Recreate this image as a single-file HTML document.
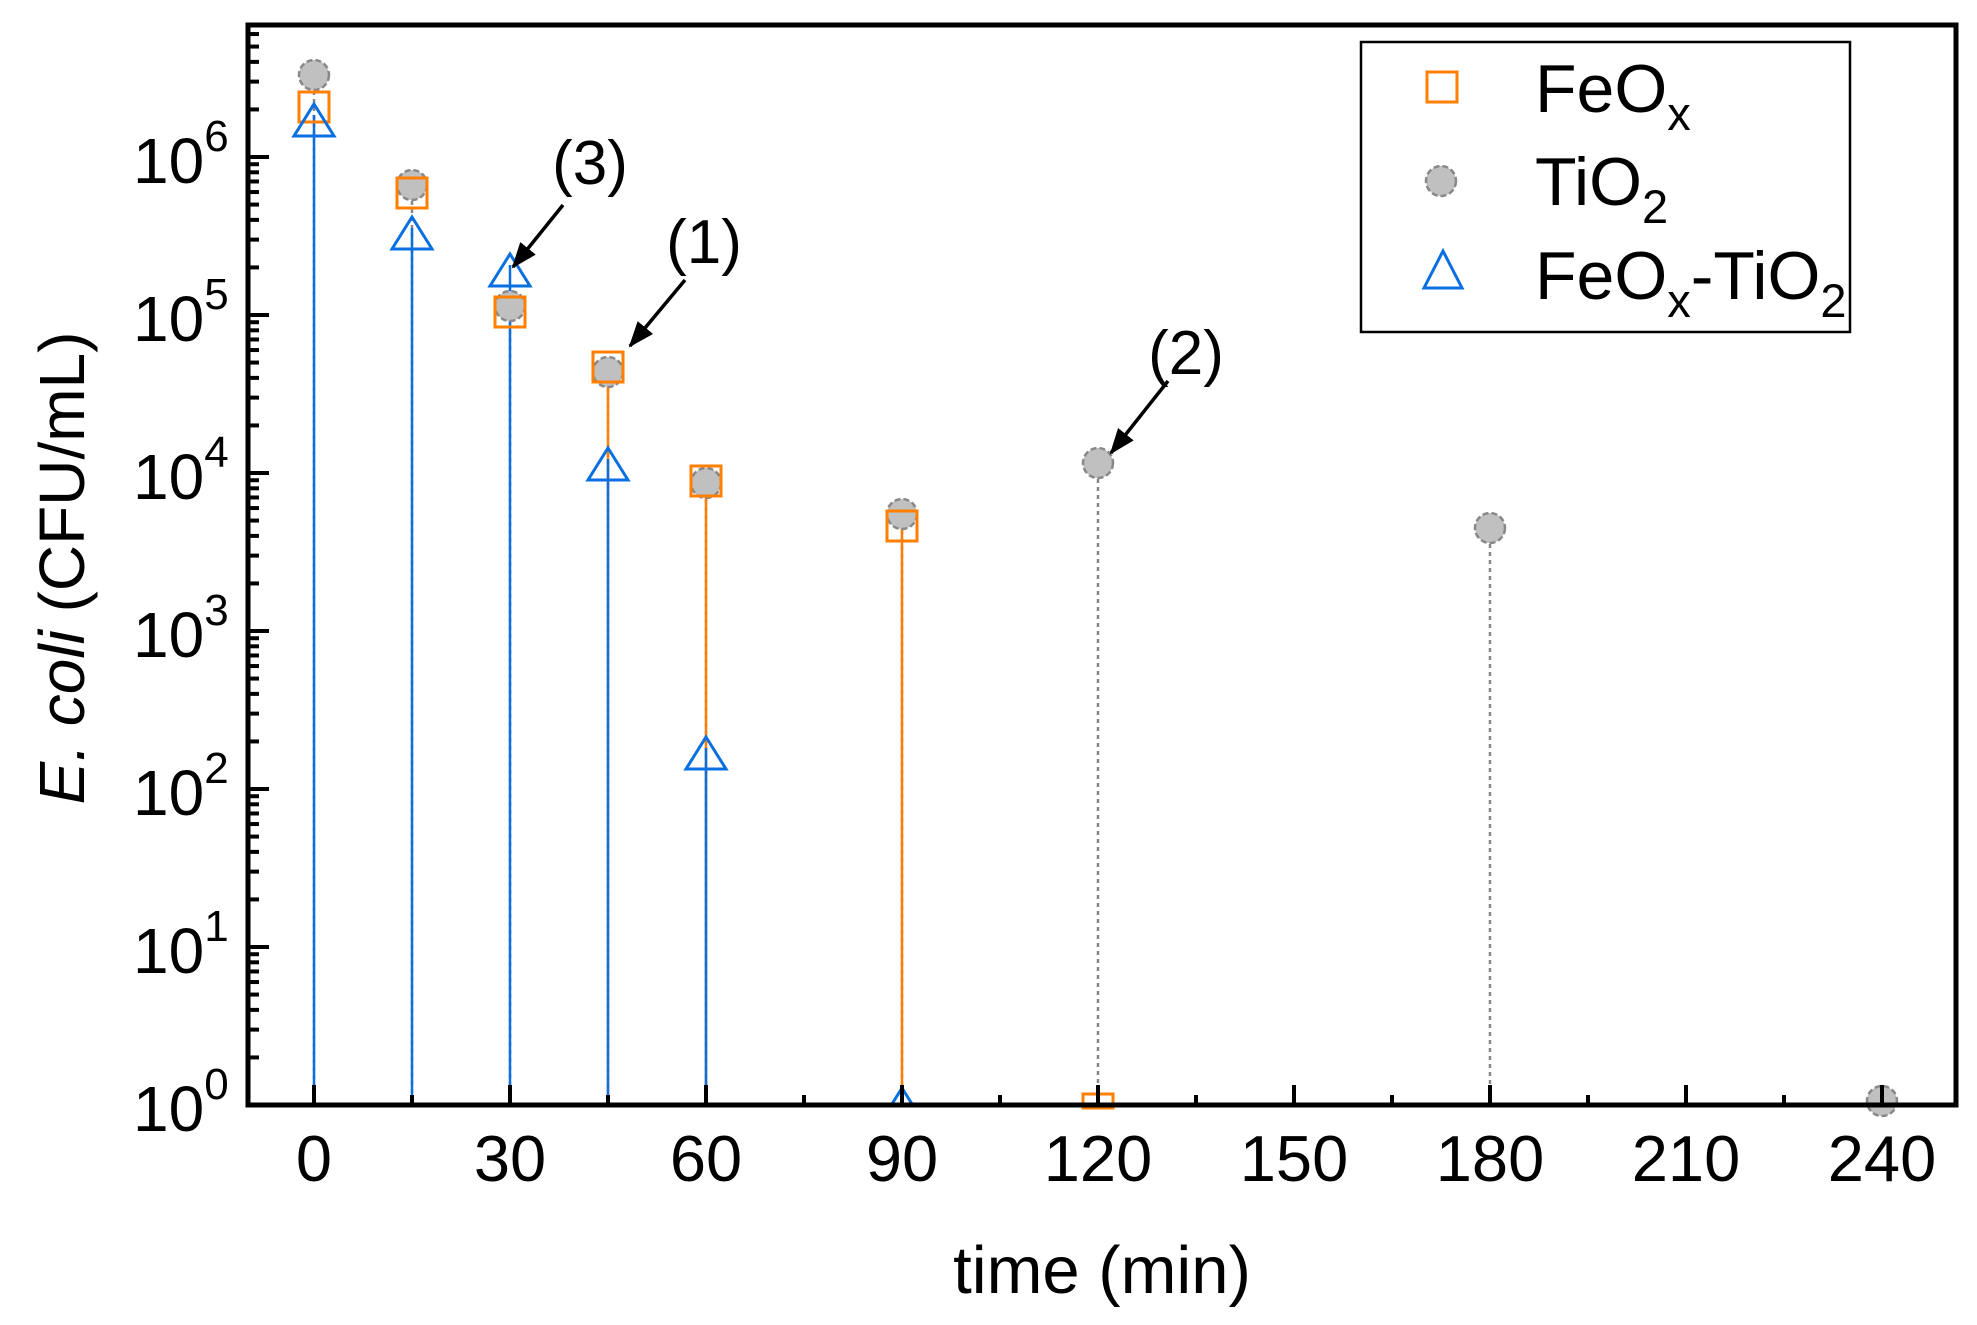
<!DOCTYPE html>
<html><head><meta charset="utf-8"><style>body{margin:0;background:#fff}svg{display:block}text{font-family:"Liberation Sans",sans-serif}</style></head>
<body>
<svg width="1977" height="1325" viewBox="0 0 1977 1325" xmlns="http://www.w3.org/2000/svg">
<defs>
<marker id="ah" markerWidth="26" markerHeight="20" refX="24" refY="10" orient="auto" markerUnits="userSpaceOnUse" viewBox="0 0 26 20"><path d="M0,0 L26,10 L0,20 z" fill="#000"/></marker>
</defs>
<g id="stems" stroke-width="2.5">
<g stroke="#888" stroke-dasharray="4,4">
<line x1="314" y1="75" x2="314" y2="1105"/>
<line x1="412" y1="185" x2="412" y2="1105"/>
<line x1="510" y1="306" x2="510" y2="1105"/>
<line x1="608" y1="372" x2="608" y2="1105"/>
<line x1="706" y1="483" x2="706" y2="1105"/>
<line x1="902" y1="514" x2="902" y2="1105"/>
<line x1="1098" y1="463" x2="1098" y2="1105"/>
<line x1="1490" y1="528" x2="1490" y2="1105"/>
</g>
<g stroke="#ff7f00">
<line x1="608" y1="362" x2="608" y2="1105"/>
<line x1="706" y1="476" x2="706" y2="1105"/>
<line x1="902" y1="521" x2="902" y2="1105"/>
</g>
<g stroke="#0a6fe0">
<line x1="314" y1="115" x2="314" y2="1105"/>
<line x1="412" y1="228" x2="412" y2="1105"/>
<line x1="510" y1="265" x2="510" y2="1105"/>
<line x1="608" y1="459" x2="608" y2="1105"/>
<line x1="706" y1="748" x2="706" y2="1105"/>
</g>
</g>
<g fill="#c0c0c0" stroke="#888" stroke-width="2.5" stroke-dasharray="6,3">
<circle cx="314" cy="75" r="15"/>
<circle cx="412" cy="185" r="15"/>
<circle cx="510" cy="306" r="15"/>
<circle cx="608" cy="372" r="15"/>
<circle cx="706" cy="483" r="15"/>
<circle cx="902" cy="514" r="15"/>
<circle cx="1098" cy="463" r="15"/>
<circle cx="1490" cy="528" r="15"/>
<circle cx="1882" cy="1101" r="15"/>
</g>
<g fill="none" stroke="#ff7f00" stroke-width="3">
<rect x="299" y="92" width="30" height="30"/>
<rect x="397" y="178" width="30" height="30"/>
<rect x="495" y="297" width="30" height="30"/>
<rect x="593" y="352" width="30" height="30"/>
<rect x="691" y="466" width="30" height="30"/>
<rect x="887" y="511" width="30" height="30"/>
<rect x="1083" y="1094" width="30" height="14"/>
</g>
<g fill="none" stroke="#0a6fe0" stroke-width="3">
<path d="M314,104 L334,136 L294,136 Z"/>
<path d="M412,217 L432,249 L392,249 Z"/>
<path d="M510,254 L530,286 L490,286 Z"/>
<path d="M608,448 L628,480 L588,480 Z"/>
<path d="M706,737 L726,769 L686,769 Z"/>
<path d="M902,1088 L912,1104 L892,1104 Z"/>
</g>
<rect x="248" y="25" width="1708" height="1080" fill="none" stroke="#000" stroke-width="5"/>
<g stroke="#000" stroke-width="4">
<line x1="314" y1="1105" x2="314" y2="1085"/><line x1="412" y1="1105" x2="412" y2="1095"/>
<line x1="510" y1="1105" x2="510" y2="1085"/><line x1="608" y1="1105" x2="608" y2="1095"/>
<line x1="706" y1="1105" x2="706" y2="1085"/><line x1="804" y1="1105" x2="804" y2="1095"/>
<line x1="902" y1="1105" x2="902" y2="1085"/><line x1="1000" y1="1105" x2="1000" y2="1095"/>
<line x1="1098" y1="1105" x2="1098" y2="1085"/><line x1="1196" y1="1105" x2="1196" y2="1095"/>
<line x1="1294" y1="1105" x2="1294" y2="1085"/><line x1="1392" y1="1105" x2="1392" y2="1095"/>
<line x1="1490" y1="1105" x2="1490" y2="1085"/><line x1="1588" y1="1105" x2="1588" y2="1095"/>
<line x1="1686" y1="1105" x2="1686" y2="1085"/><line x1="1784" y1="1105" x2="1784" y2="1095"/>
<line x1="1882" y1="1105" x2="1882" y2="1085"/>
</g>
<g id="yt" stroke="#000" stroke-width="4"></g>
<g font-size="65" text-anchor="middle">
<text x="314" y="1181">0</text><text x="510" y="1181">30</text><text x="706" y="1181">60</text>
<text x="902" y="1181">90</text><text x="1098" y="1181">120</text><text x="1294" y="1181">150</text>
<text x="1490" y="1181">180</text><text x="1686" y="1181">210</text><text x="1882" y="1181">240</text>
<text x="1102" y="1293" font-size="67">time (min)</text>
</g>
<g font-size="64" id="ylab"></g>
<text transform="translate(84,568) rotate(-90)" font-size="64" text-anchor="middle"><tspan font-style="italic">E. coli</tspan> (CFU/mL)</text>
<g font-size="62" text-anchor="middle">
<text x="590" y="184">(3)</text>
<text x="704" y="263">(1)</text>
<text x="1186" y="374">(2)</text>
</g>
<g stroke="#000" stroke-width="3.5" marker-end="url(#ah)">
<line x1="563" y1="205" x2="513" y2="267"/>
<line x1="685" y1="280" x2="630" y2="346"/>
<line x1="1168" y1="381" x2="1111" y2="453"/>
</g>
<rect x="1361" y="42" width="489" height="290" fill="#fff" stroke="#000" stroke-width="2.5"/>
<rect x="1427" y="72" width="30" height="30" fill="none" stroke="#ff7f00" stroke-width="3"/>
<circle cx="1441" cy="181" r="15" fill="#c0c0c0" stroke="#888" stroke-width="2.5" stroke-dasharray="6,3"/>
<path d="M1443,251 L1462,288 L1424,288 Z" fill="none" stroke="#0a6fe0" stroke-width="3"/>
<g font-size="68">
<text x="1535" y="112">FeO<tspan font-size="47" dy="18">x</tspan></text>
<text x="1535" y="205">TiO<tspan font-size="47" dy="18">2</tspan></text>
<text x="1535" y="299">FeO<tspan font-size="47" dy="18">x</tspan><tspan dy="-18">-TiO</tspan><tspan font-size="47" dy="18">2</tspan></text>
</g>
<script>
var g=document.getElementById('yt'),L=document.getElementById('ylab'),ns='http://www.w3.org/2000/svg';
for(var d=0;d<=6;d++){var y=1105-158*d;
 var l=document.createElementNS(ns,'line');l.setAttribute('x1',248);l.setAttribute('x2',269);l.setAttribute('y1',y);l.setAttribute('y2',y);g.appendChild(l);
 var t=document.createElementNS(ns,'text');t.setAttribute('x',133);t.setAttribute('y',y+26);t.textContent='10';
 var s=document.createElementNS(ns,'tspan');s.setAttribute('font-size','44');s.setAttribute('dy','-32');s.textContent=d;t.appendChild(s);L.appendChild(t);
 for(var k=2;k<=9;k++){var yy=y-158*Math.log10(k);if(yy<25)continue;var m=document.createElementNS(ns,'line');m.setAttribute('x1',248);m.setAttribute('x2',259);m.setAttribute('y1',yy);m.setAttribute('y2',yy);g.appendChild(m);}
}
</script>
</svg>
</body></html>
